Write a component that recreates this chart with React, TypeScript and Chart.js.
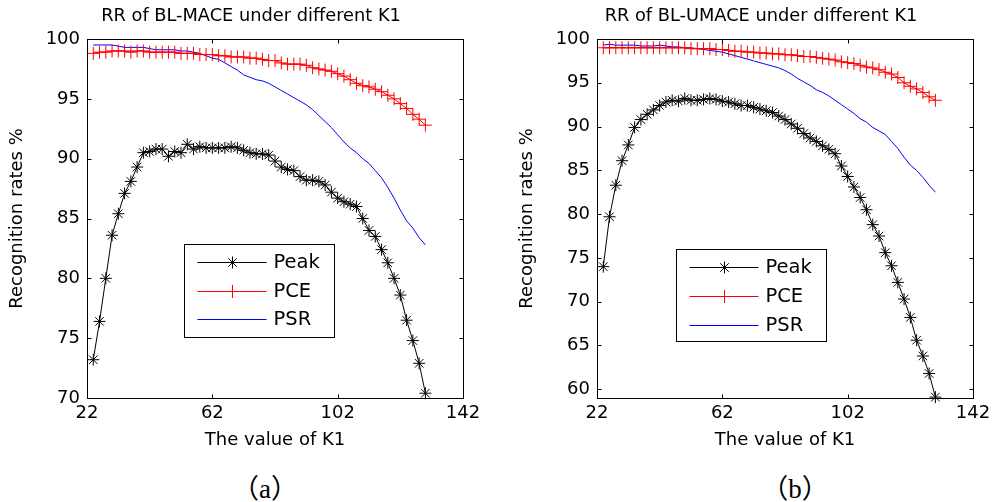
import React, { useEffect, useRef } from "react";
import { Chart, registerables } from "chart.js";
import { drawPoint } from "chart.js/helpers";

Chart.register(...registerables);

// ---- data ----
const kValues = [
  24, 26, 28, 30, 32, 34, 36, 38, 40, 42, 44, 46, 48, 50, 52, 54, 56, 58, 60, 62,
  64, 66, 68, 70, 72, 74, 76, 78, 80, 82, 84, 86, 88, 90, 92, 94, 96, 98, 100, 102,
  104, 106, 108, 110, 112, 114, 116, 118, 120, 122, 124, 126, 128, 130,
];

const peakA = [
  73.2, 76.4, 80.0, 83.6, 85.4, 87.1, 88.1, 89.3, 90.5, 90.6, 90.8, 90.8, 90.2, 90.6, 90.5, 91.2, 90.8, 91.0, 90.9, 90.9,
  90.9, 90.9, 91.0, 90.9, 90.7, 90.5, 90.4, 90.4, 90.3, 89.8, 89.3, 89.1, 89.0, 88.5, 88.2, 88.2, 88.1, 87.8, 87.2, 86.7,
  86.4, 86.2, 86.0, 85.0, 84.0, 83.5, 82.4, 81.3, 80.0, 78.6, 76.5, 74.8, 72.9, 70.4,
];
const pceA = [
  98.8, 98.9, 98.9, 99.0, 99.0, 99.0, 98.9, 99.0, 99.0, 98.9, 98.9, 98.9, 98.9, 98.9, 98.8, 98.8, 98.8, 98.7, 98.7, 98.7,
  98.6, 98.6, 98.5, 98.5, 98.5, 98.4, 98.4, 98.3, 98.2, 98.2, 98.0, 97.9, 97.9, 97.9, 97.8, 97.6, 97.5, 97.4, 97.3, 97.1,
  96.9, 96.6, 96.3, 96.1, 96.0, 95.8, 95.6, 95.3, 95.0, 94.6, 94.2, 93.7, 93.3, 92.8,
];
const psrA = [
  99.5, 99.5, 99.5, 99.5, 99.4, 99.3, 99.3, 99.3, 99.3, 99.2, 99.1, 99.1, 99.1, 99.1, 99.0, 99.0, 98.9, 98.8, 98.6, 98.4,
  98.3, 98.0, 97.7, 97.4, 97.0, 96.8, 96.6, 96.5, 96.3, 96.0, 95.7, 95.4, 95.1, 94.8, 94.5, 94.1, 93.6, 93.1, 92.6, 92.0,
  91.4, 90.9, 90.5, 90.0, 89.6, 89.0, 88.4, 87.6, 86.7, 85.7, 84.8, 84.2, 83.4, 82.8,
];

const peakB = [
  74.0, 79.7, 83.3, 86.1, 87.9, 89.9, 90.8, 91.4, 91.9, 92.4, 92.8, 93.0, 92.9, 93.2, 93.0, 93.0, 93.1, 93.2, 93.1, 92.9,
  92.8, 92.6, 92.4, 92.4, 92.2, 92.0, 91.8, 91.6, 91.2, 90.8, 90.3, 89.8, 89.2, 88.7, 88.3, 87.8, 87.4, 86.9, 85.5, 84.3,
  83.1, 81.9, 80.5, 78.8, 77.5, 75.6, 74.1, 72.2, 70.3, 68.2, 65.6, 63.8, 61.8, 59.1,
];
const pceB = [
  99.0, 99.0, 99.0, 99.0, 99.0, 99.0, 99.0, 99.0, 99.0, 99.0, 99.0, 99.0, 99.0, 99.0, 98.9, 98.9, 98.9, 98.9, 98.8, 98.8,
  98.7, 98.6, 98.6, 98.5, 98.5, 98.4, 98.4, 98.3, 98.3, 98.2, 98.2, 98.1, 98.0, 98.0, 97.9, 97.8, 97.7, 97.6, 97.4, 97.3,
  97.2, 97.0, 96.8, 96.7, 96.5, 96.2, 96.0, 95.6, 95.0, 94.6, 94.3, 93.9, 93.4, 93.0,
];
const psrB = [
  99.3, 99.4, 99.3, 99.3, 99.3, 99.3, 99.2, 99.2, 99.2, 99.3, 99.2, 99.1, 99.1, 99.0, 99.0, 98.9, 98.8, 98.7, 98.6, 98.5,
  98.3, 98.1, 97.9, 97.7, 97.5, 97.3, 97.1, 96.9, 96.7, 96.4, 96.0, 95.5, 95.1, 94.7, 94.2, 93.9, 93.5, 93.0, 92.5, 92.0,
  91.5, 90.9, 90.5, 89.9, 89.5, 89.1, 88.3, 87.5, 86.5, 85.6, 85.0, 84.2, 83.3, 82.5,
];

const xTickValues = [22, 62, 102, 142];
const yTicksA = [70, 75, 80, 85, 90, 95, 100];
const yTicksB = [60, 65, 70, 75, 80, 85, 90, 95, 100];
const seriesNames = ["Peak", "PCE", "PSR"];
const titleA = "RR of BL-MACE under different K1";
const titleB = "RR of BL-UMACE under different K1";
const xTitle = "The value of K1";
const yTitle = "Recognition rates %";

const FONT = "'DejaVu Sans', sans-serif";

// ---- plugins ----
const framePlugin = {
  id: "frame",
  afterDatasetsDraw(chart: any) {
    const { ctx, chartArea, scales } = chart;
    const l = Math.round(chartArea.left) + 0.5;
    const r = Math.round(chartArea.right) + 0.5;
    const t = Math.round(chartArea.top) + 0.5;
    const b = Math.round(chartArea.bottom) + 0.5;
    const tl = 4;
    ctx.save();
    ctx.strokeStyle = "#000";
    ctx.lineWidth = 1;
    ctx.strokeRect(l, t, r - l, b - t);
    ctx.beginPath();
    scales.x.ticks.forEach((tk: any) => {
      const px = Math.round(scales.x.getPixelForValue(tk.value)) + 0.5;
      ctx.moveTo(px, b);
      ctx.lineTo(px, b - tl);
      ctx.moveTo(px, t);
      ctx.lineTo(px, t + tl);
    });
    scales.y.ticks.forEach((tk: any) => {
      const py = Math.round(scales.y.getPixelForValue(tk.value)) + 0.5;
      ctx.moveTo(l, py);
      ctx.lineTo(l + tl, py);
      ctx.moveTo(r, py);
      ctx.lineTo(r - tl, py);
    });
    ctx.stroke();
    ctx.restore();
  },
};

const boxLegendPlugin = {
  id: "boxLegend",
  afterDraw(chart: any, _args: any, opts: any) {
    const { ctx, chartArea } = chart;
    const bx = Math.round(chartArea.left + opts.x) + 0.5;
    const by = Math.round(chartArea.top + opts.y) + 0.5;
    ctx.save();
    ctx.fillStyle = "#fff";
    ctx.fillRect(bx, by, opts.w, opts.h);
    ctx.strokeStyle = "#000";
    ctx.lineWidth = 1;
    ctx.strokeRect(bx, by, opts.w, opts.h);
    chart.data.datasets.forEach((ds: any, i: number) => {
      const y = Math.round(by + opts.rows[i]) + 0.5;
      ctx.strokeStyle = ds.borderColor;
      ctx.lineWidth = 1;
      ctx.beginPath();
      ctx.moveTo(bx + 13, y);
      ctx.lineTo(bx + 82, y);
      ctx.stroke();
      if (ds.pointRadius > 0) {
        ctx.strokeStyle = ds.pointBorderColor;
        ctx.fillStyle = "rgba(0,0,0,0)";
        drawPoint(ctx, { pointStyle: ds.pointStyle, rotation: 0, radius: ds.pointRadius, borderWidth: 1 }, bx + 48, y);
      }
      ctx.fillStyle = "#000";
      ctx.font = `19.5px ${FONT}`;
      ctx.textBaseline = "middle";
      ctx.textAlign = "left";
      ctx.fillText(ds.label, bx + 89, y);
    });
    ctx.restore();
  },
};

function makeConfig(
  title: string,
  peak: number[],
  pce: number[],
  psr: number[],
  yMin: number,
  yMax: number,
  yTicks: number[],
  legendPos: { x: number; y: number; w: number; h: number; rows: number[] }
): any {
  const pts = (arr: number[]) => kValues.map((k, i) => ({ x: k, y: arr[i] }));
  return {
    type: "line",
    data: {
      datasets: [
        {
          label: seriesNames[0],
          data: pts(peak),
          borderColor: "#000000",
          borderWidth: 1,
          pointStyle: "star",
          pointRadius: 6,
          pointBorderColor: "#000000",
          pointBackgroundColor: "rgba(0,0,0,0)",
          pointBorderWidth: 1,
          tension: 0,
          clip: false,
        },
        {
          label: seriesNames[1],
          data: pts(pce),
          borderColor: "#ff0000",
          borderWidth: 1,
          pointStyle: "cross",
          pointRadius: 6.5,
          pointBorderColor: "#ff0000",
          pointBackgroundColor: "rgba(0,0,0,0)",
          pointBorderWidth: 1,
          tension: 0,
          clip: false,
        },
        {
          label: seriesNames[2],
          data: pts(psr),
          borderColor: "#0000ff",
          borderWidth: 1,
          pointRadius: 0,
          tension: 0,
          clip: false,
        },
      ],
    },
    options: {
      responsive: false,
      animation: false,
      devicePixelRatio: 1,
      layout: { padding: 0 },
      plugins: {
        legend: { display: false },
        tooltip: { enabled: false },
        title: {
          display: true,
          text: title,
          color: "#000",
          font: { family: FONT, size: 17.8, weight: "normal" },
          padding: { top: 5.8, bottom: 11.84 },
        },
        boxLegend: legendPos,
      },
      scales: {
        x: {
          type: "linear",
          min: 22,
          max: 142,
          afterBuildTicks: (s: any) => {
            s.ticks = xTickValues.map((v) => ({ value: v }));
          },
          afterFit: (s: any) => {
            s.height = 62;
          },
          grid: { display: false, drawTicks: false },
          border: { display: false },
          ticks: { color: "#000", font: { family: FONT, size: 18 }, padding: 5, maxRotation: 0, autoSkip: false },
          title: {
            display: true,
            text: xTitle,
            color: "#000",
            font: { family: FONT, size: 18 },
            padding: { top: 4, bottom: 9 },
          },
        },
        y: {
          type: "linear",
          min: yMin,
          max: yMax,
          afterBuildTicks: (s: any) => {
            s.ticks = yTicks.map((v) => ({ value: v }));
          },
          afterFit: (s: any) => {
            s.width = 87;
          },
          grid: { display: false, drawTicks: false },
          border: { display: false },
          ticks: { color: "#000", font: { family: FONT, size: 18 }, padding: 7, autoSkip: false },
          title: {
            display: true,
            text: yTitle,
            color: "#000",
            font: { family: FONT, size: 18 },
            padding: { top: 7, bottom: 0 },
          },
        },
        yRight: {
          type: "linear",
          position: "right",
          display: true,
          min: yMin,
          max: yMax,
          afterFit: (s: any) => {
            s.width = 39;
          },
          grid: { display: false, drawTicks: false },
          border: { display: false },
          ticks: { display: false },
        },
      },
    },
    plugins: [framePlugin, boxLegendPlugin],
  };
}

function Panel(props: { left: number; config: () => any }) {
  const ref = useRef<HTMLCanvasElement | null>(null);
  useEffect(() => {
    if (!ref.current) return;
    const chart = new Chart(ref.current, props.config());
    return () => chart.destroy();
  }, []);
  return (
    <canvas
      ref={ref}
      width={502}
      height={460}
      style={{ position: "absolute", left: props.left, top: 0, width: 502, height: 460 }}
    />
  );
}

export default function App() {
  const captionStyle: React.CSSProperties = {
    position: "absolute",
    top: 472,
    width: 200,
    textAlign: "center",
    fontFamily: "'Liberation Serif', 'Times New Roman', serif",
    fontSize: 27,
    lineHeight: "30px",
    color: "#000",
  };
  const paren: React.CSSProperties = { fontFamily: "'Noto Sans CJK SC', sans-serif" };
  return (
    <div
      style={{
        position: "fixed",
        left: 0,
        top: 0,
        width: 994,
        height: 502,
        overflow: "hidden",
        background: "#fff",
      }}
    >
      <Panel
        left={0}
        config={() =>
          makeConfig(titleA, peakA, pceA, psrA, 70, 100, yTicksA, { x: 97, y: 205, w: 150, h: 93, rows: [17, 46, 74] })
        }
      />
      <Panel
        left={510}
        config={() =>
          makeConfig(titleB, peakB, pceB, psrB, 59, 100, yTicksB, { x: 79, y: 210, w: 150, h: 92, rows: [17, 46, 75] })
        }
      />
      <div style={{ ...captionStyle, left: 165 }}>
        <span style={paren}>（</span>a<span style={paren}>）</span>
      </div>
      <div style={{ ...captionStyle, left: 695 }}>
        <span style={paren}>（</span>b<span style={paren}>）</span>
      </div>
    </div>
  );
}
